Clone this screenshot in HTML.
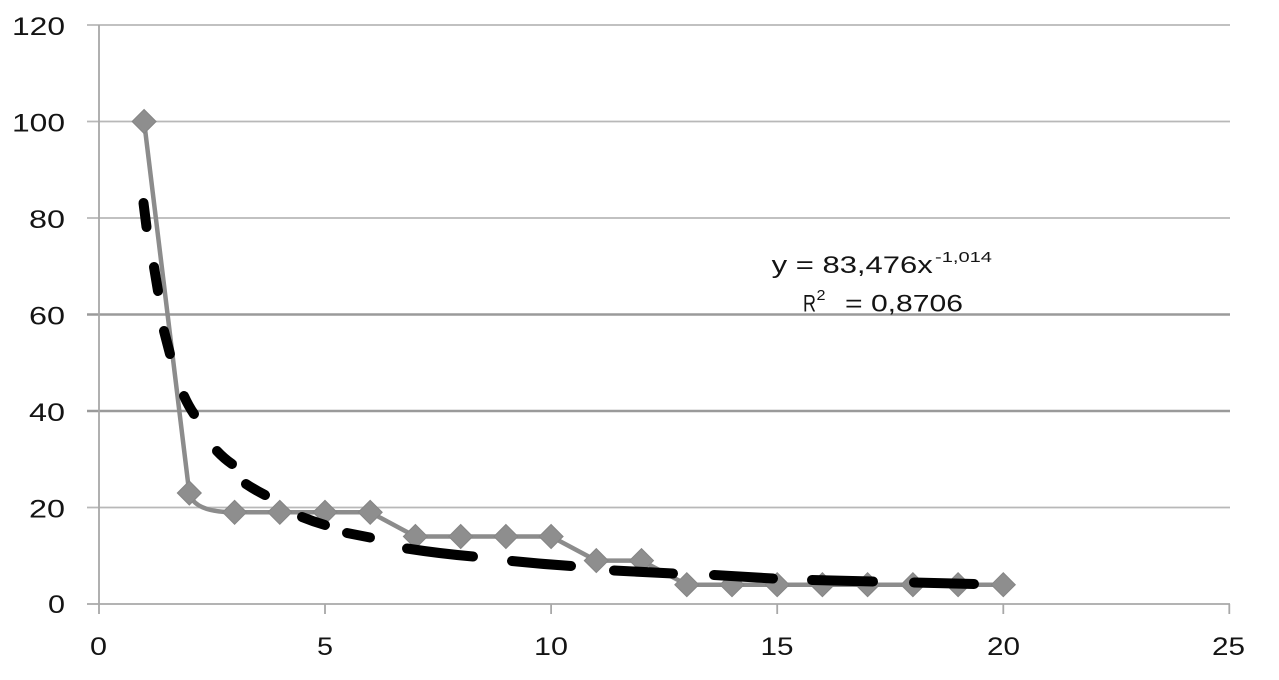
<!DOCTYPE html>
<html>
<head>
<meta charset="utf-8">
<style>
  html, body { margin: 0; padding: 0; background: #ffffff; }
  body { width: 1279px; height: 680px; overflow: hidden; }
  svg { display: block; }
  text { font-family: "Liberation Sans", "DejaVu Sans", sans-serif; fill: #141414; }
</style>
</head>
<body>
<svg width="1279" height="680" viewBox="0 0 1279 680" xmlns="http://www.w3.org/2000/svg">
  <rect x="0" y="0" width="1279" height="680" fill="#ffffff"/>

  <!-- gridlines -->
  <g stroke="#b8b8b8" stroke-width="1.8">
    <line x1="87" y1="25" x2="1230" y2="25"/>
    <line x1="87" y1="121.5" x2="1230" y2="121.5"/>
    <line x1="87" y1="218" x2="1230" y2="218"/>
    <line x1="87" y1="507.5" x2="1230" y2="507.5"/>
  </g>
  <g stroke="#9a9a9a" stroke-width="2.4">
    <line x1="87" y1="314.5" x2="1230" y2="314.5"/>
    <line x1="87" y1="411" x2="1230" y2="411"/>
  </g>

  <!-- axes -->
  <g stroke="#a8a8a8" stroke-width="1.8">
    <line x1="99" y1="25" x2="99" y2="614"/>
    <line x1="87" y1="604" x2="1230" y2="604"/>
    <line x1="325" y1="604" x2="325" y2="614"/>
    <line x1="551.1" y1="604" x2="551.1" y2="614"/>
    <line x1="777.2" y1="604" x2="777.2" y2="614"/>
    <line x1="1003.3" y1="604" x2="1003.3" y2="614"/>
    <line x1="1229.3" y1="604" x2="1229.3" y2="614"/>
  </g>

  <!-- y labels -->
  <g font-size="25" text-anchor="end">
    <text x="65" y="35" textLength="53" lengthAdjust="spacingAndGlyphs">120</text>
    <text x="65" y="131.5" textLength="53" lengthAdjust="spacingAndGlyphs">100</text>
    <text x="65" y="228" textLength="36" lengthAdjust="spacingAndGlyphs">80</text>
    <text x="65" y="324.5" textLength="36" lengthAdjust="spacingAndGlyphs">60</text>
    <text x="65" y="421" textLength="36" lengthAdjust="spacingAndGlyphs">40</text>
    <text x="65" y="517.5" textLength="36" lengthAdjust="spacingAndGlyphs">20</text>
    <text x="65" y="613" textLength="17" lengthAdjust="spacingAndGlyphs">0</text>
  </g>

  <!-- x labels -->
  <g font-size="25" text-anchor="middle">
    <text x="98.5" y="655" textLength="17" lengthAdjust="spacingAndGlyphs">0</text>
    <text x="325" y="655" textLength="16" lengthAdjust="spacingAndGlyphs">5</text>
    <text x="551" y="655" textLength="34" lengthAdjust="spacingAndGlyphs">10</text>
    <text x="777" y="655" textLength="33" lengthAdjust="spacingAndGlyphs">15</text>
    <text x="1003.5" y="655" textLength="33" lengthAdjust="spacingAndGlyphs">20</text>
    <text x="1228.5" y="655" textLength="33" lengthAdjust="spacingAndGlyphs">25</text>
  </g>

  <!-- data series line -->
  <path d="M144.1,121.5 L189.3,493 Q194,512.3 234.6,512.3 L279.8,512.3 L325,512.3 L370.2,512.3 L415.4,536.5 L460.7,536.5 L505.9,536.5 L551.1,536.5 L596.3,560.6 L641.5,560.6 L686.8,584.7 L732,584.7 L777.2,584.7 L822.4,584.7 L867.6,584.7 L912.9,584.7 L958.1,584.7 L1003.3,584.7"
        fill="none" stroke="#8c8c8c" stroke-width="4.5" stroke-linejoin="round"/>

  <!-- markers -->
  <g fill="#8e8e8e" stroke="#858585" stroke-width="1">
    <polygon points="144.1,109.5 156.1,121.5 144.1,133.5 132.1,121.5"/>
    <polygon points="189.3,481 201.3,493 189.3,505 177.3,493"/>
    <polygon points="234.6,500.3 246.6,512.3 234.6,524.3 222.6,512.3"/>
    <polygon points="279.8,500.3 291.8,512.3 279.8,524.3 267.8,512.3"/>
    <polygon points="325,500.3 337,512.3 325,524.3 313,512.3"/>
    <polygon points="370.2,500.3 382.2,512.3 370.2,524.3 358.2,512.3"/>
    <polygon points="415.4,524.5 427.4,536.5 415.4,548.5 403.4,536.5"/>
    <polygon points="460.7,524.5 472.7,536.5 460.7,548.5 448.7,536.5"/>
    <polygon points="505.9,524.5 517.9,536.5 505.9,548.5 493.9,536.5"/>
    <polygon points="551.1,524.5 563.1,536.5 551.1,548.5 539.1,536.5"/>
    <polygon points="596.3,548.6 608.3,560.6 596.3,572.6 584.3,560.6"/>
    <polygon points="641.5,548.6 653.5,560.6 641.5,572.6 629.5,560.6"/>
    <polygon points="686.8,572.7 698.8,584.7 686.8,596.7 674.8,584.7"/>
    <polygon points="732,572.7 744,584.7 732,596.7 720,584.7"/>
    <polygon points="777.2,572.7 789.2,584.7 777.2,596.7 765.2,584.7"/>
    <polygon points="822.4,572.7 834.4,584.7 822.4,596.7 810.4,584.7"/>
    <polygon points="867.6,572.7 879.6,584.7 867.6,596.7 855.6,584.7"/>
    <polygon points="912.9,572.7 924.9,584.7 912.9,596.7 900.9,584.7"/>
    <polygon points="958.1,572.7 970.1,584.7 958.1,596.7 946.1,584.7"/>
    <polygon points="1003.3,572.7 1015.3,584.7 1003.3,596.7 991.3,584.7"/>
  </g>

  <!-- power trendline (dashed) -->
  <g stroke="#000000" stroke-width="10" stroke-linecap="round" fill="none">
    <line x1="143.5" y1="203" x2="146.5" y2="227"/>
    <line x1="154" y1="267" x2="158" y2="291"/>
    <line x1="164" y1="331" x2="170" y2="354"/>
    <path d="M184,396 Q188.5,406 194,414"/>
    <path d="M217,451 Q224,458.5 232,464"/>
    <path d="M246,484 Q255,490 265,495"/>
    <path d="M302,517 Q313,521.5 325,525"/>
    <line x1="347" y1="533" x2="370" y2="537.5"/>
    <path d="M407,548.5 Q439,553.5 473,556.5"/>
    <path d="M512,561 Q541,564 571,566"/>
    <line x1="614" y1="570.5" x2="673" y2="573.5"/>
    <line x1="714" y1="575" x2="773" y2="578.5"/>
    <line x1="812" y1="580" x2="873" y2="581.5"/>
    <line x1="914" y1="582.5" x2="974" y2="584"/>
  </g>

  <!-- equation -->
  <g>
    <text x="771.7" y="273" font-size="24" textLength="161" lengthAdjust="spacingAndGlyphs">y = 83,476x</text>
    <text x="935" y="262" font-size="15" textLength="57" lengthAdjust="spacingAndGlyphs">-1,014</text>
    <text x="803" y="311.7" font-size="24" textLength="13" lengthAdjust="spacingAndGlyphs">R</text>
    <text x="816.5" y="300" font-size="15" textLength="9" lengthAdjust="spacingAndGlyphs">2</text>
    <text x="845" y="311.7" font-size="24" textLength="118" lengthAdjust="spacingAndGlyphs">= 0,8706</text>
  </g>
</svg>
</body>
</html>
